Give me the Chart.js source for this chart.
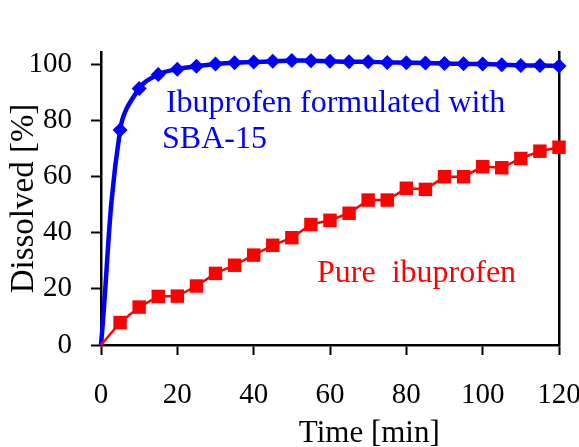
<!DOCTYPE html>
<html>
<head>
<meta charset="utf-8">
<style>
  html, body { margin: 0; padding: 0; background: #fff; }
</style>
</head>
<body>
<canvas id="myChart" width="579" height="447"></canvas>
<script src="https://cdn.jsdelivr.net/npm/chart.js@4.4.1/dist/chart.umd.min.js"></script>
<script>
// Data (time in minutes, dissolved in %)
const timeMin = [0, 5, 10, 15, 20, 25, 30, 35, 40, 45, 50, 55, 60, 65, 70, 75, 80, 85, 90, 95, 100, 105, 110, 115, 120];
const sbaValues = [0, 76.5, 91.3, 96.3, 98.2, 99.2, 100, 100.5, 100.7, 101, 101.3, 101.2, 101, 100.8, 100.8, 100.6, 100.5, 100.4, 100.2, 100.1, 100, 99.8, 99.5, 99.5, 99.3];
const pureValues = [0, 8, 13.5, 17.3, 17.4, 21, 25.5, 28.4, 32, 35.5, 38.2, 42.9, 44.4, 46.9, 51.6, 51.6, 55.8, 55.4, 59.9, 59.9, 63.5, 63.1, 66.4, 69, 70.4];
const xTickValues = [0, 20, 40, 60, 80, 100, 120];
const yTickValues = [0, 20, 40, 60, 80, 100];

const serif = "'Liberation Serif', 'Times New Roman', serif";
Chart.defaults.font.family = serif;
Chart.defaults.color = '#000';

// in-plot series captions and the x axis title (it sits right of centre in the original)
const seriesLabels = {
    id: 'seriesLabels',
    afterDatasetsDraw(chart) {
        const { ctx, scales: { x, y } } = chart;
        ctx.save();
        ctx.font = '32px ' + serif;
        ctx.textBaseline = 'alphabetic';
        ctx.fillStyle = '#0000ff';
        ctx.fillText('Ibuprofen formulated with', x.getPixelForValue(17), y.getPixelForValue(82.8));
        ctx.fillText('SBA-15', x.getPixelForValue(16), y.getPixelForValue(70));
        ctx.fillStyle = '#ff0000';
        ctx.fillText('Pure  ibuprofen', x.getPixelForValue(56.6), y.getPixelForValue(22.5));

        ctx.font = '31px ' + serif;
        ctx.fillStyle = '#000';
        ctx.textAlign = 'center';
        ctx.fillText('Time [min]', x.getPixelForValue(70.3), x.bottom - 5);
        ctx.restore();
    }
};

const axisGrid = { display: true, drawOnChartArea: false, drawTicks: true, tickLength: 10, tickWidth: 2, tickColor: '#000' };
const axisBorder = { display: true, color: '#000', width: 2.5 };

const ctx = document.getElementById('myChart').getContext('2d');
new Chart(ctx, {
    type: 'line',
    data: {
        datasets: [
            {
                label: 'Pure ibuprofen',
                data: timeMin.map((t, i) => ({ x: t, y: pureValues[i] })),
                borderColor: '#ff0000',
                backgroundColor: '#ff0000',
                borderWidth: 2.5,
                pointStyle: 'rect',
                pointRadius: c => c.dataIndex === 0 ? 0 : 9.5,
                pointBorderWidth: 0,
                tension: 0,
                clip: false
            },
            {
                label: 'Ibuprofen formulated with SBA-15',
                data: timeMin.map((t, i) => ({ x: t, y: sbaValues[i] })),
                borderColor: '#0000ff',
                backgroundColor: '#0000ff',
                borderWidth: 4.5,
                pointStyle: 'rectRot',
                pointRadius: c => c.dataIndex === 0 ? 0 : 7.5,
                pointBorderWidth: 0,
                tension: 0.4,
                clip: false
            }
        ]
    },
    options: {
        responsive: false,
        animation: false,
        layout: { padding: { left: 0, right: 20, top: 52, bottom: 0 } },
        plugins: { legend: { display: false }, tooltip: { enabled: false } },
        scales: {
            x: {
                type: 'linear',
                position: 'bottom',
                min: 0,
                max: 120,
                afterBuildTicks: s => { s.ticks = xTickValues.map(v => ({ value: v })); },
                afterFit: s => { s.height = 102; s.paddingLeft = 0; s.paddingRight = 0; },
                grid: axisGrid,
                border: axisBorder,
                ticks: { color: '#000', padding: 23, maxRotation: 0, autoSkip: false, font: { size: 29 } },
                title: { display: false }
            },
            y: {
                type: 'linear',
                position: 'left',
                min: 0,
                max: 104.3,
                afterBuildTicks: s => { s.ticks = yTickValues.map(v => ({ value: v })); },
                afterFit: s => { s.width = 101; s.paddingTop = 0; s.paddingBottom = 0; },
                grid: axisGrid,
                border: axisBorder,
                ticks: { color: '#000', padding: 19, font: { size: 29 } },
                title: { display: true, text: 'Dissolved [%]', color: '#000', font: { size: 33, lineHeight: 1 }, padding: { top: 7.4, bottom: 0 } }
            },
            yRight: {
                type: 'linear',
                position: 'right',
                min: 0,
                max: 104.3,
                afterFit: s => { s.width = 0; },
                grid: { display: false, drawTicks: false },
                border: axisBorder,
                ticks: { display: false }
            }
        }
    },
    plugins: [seriesLabels]
});
</script>
</body>
</html>
